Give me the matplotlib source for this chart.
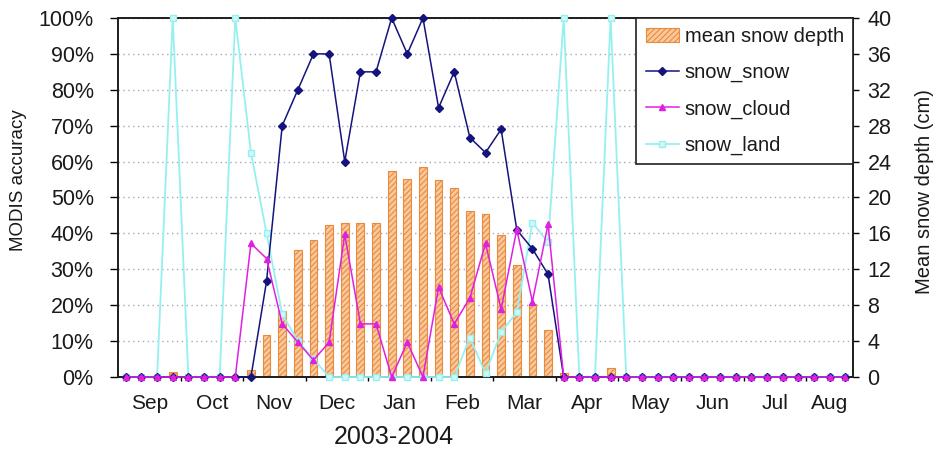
import matplotlib
matplotlib.use("Agg")
import matplotlib.pyplot as plt
import numpy as np

plt.rcParams['font.family'] = ['Liberation Sans', 'DejaVu Sans']
plt.rcParams['hatch.linewidth'] = 0.8

months = ["Sep", "Oct", "Nov", "Dec", "Jan", "Feb",
          "Mar", "Apr", "May", "Jun", "Jul", "Aug"]

# 8-day periods, Sep 2003 - Aug 2004 (47 periods)
snow_depth = [0, 0, 0, 0.6, 0, 0, 0, 0, 0.8, 4.7,
              7.35, 14.1, 15.3, 16.9, 17.2, 17.2, 17.2, 23.0, 22.1, 23.4,
              21.9, 21.1, 18.5, 18.2, 15.8, 12.5, 8.1, 5.2, 0.5, 0,
              0, 1.0, 0, 0, 0, 0, 0, 0, 0, 0,
              0, 0, 0, 0, 0, 0, 0]
snow_snow = [0, 0, 0, 0, 0, 0, 0, 0, 0, 26.7,
             70, 80, 90, 90, 60, 85, 85, 100, 90, 100,
             75, 85, 66.7, 62.5, 69, 41, 35.7, 28.6, 0, 0,
             0, 0, 0, 0, 0, 0, 0, 0, 0, 0,
             0, 0, 0, 0, 0, 0, 0]
snow_cloud = [0, 0, 0, 0, 0, 0, 0, 0, 37.2, 33,
              14.8, 9.7, 4.7, 9.7, 39.7, 14.8, 14.8, 0, 9.7, 0,
              25, 14.8, 22, 37.2, 18.9, 41.1, 21, 42.6, 0, 0,
              0, 0, 0, 0, 0, 0, 0, 0, 0, 0,
              0, 0, 0, 0, 0, 0, 0]
snow_land = [0, 0, 0, 100, 0, 0, 0, 100, 62.5, 40,
             17.5, 10, 5, 0, 0, 0, 0, 0, 0, 0,
             0, 0, 11, 1, 12.5, 18, 43, 37.5, 100, 0,
             0, 100, 0, 0, 0, 0, 0, 0, 0, 0,
             0, 0, 0, 0, 0, 0, 0]

x = np.arange(len(snow_depth))
text_color = "#1a1a1a"

fig = plt.figure(figsize=(9.36, 4.5), dpi=100)
ax = fig.add_axes([118 / 936, 1 - 377 / 450, 735 / 936, 359 / 450])
ax2 = ax.twinx()
ax.set_zorder(ax2.get_zorder() + 1)
ax.patch.set_visible(False)

# bars on the depth axis, behind the lines
bars = ax2.bar(x, snow_depth, width=0.5, facecolor="#f9c89c", edgecolor="#ea8a3c",
               hatch="//////", linewidth=0.8, label="mean snow depth", zorder=2)
ax2.set_ylim(0, 40)
ax2.set_yticks(range(0, 41, 4))
ax2.grid(axis="y", color="#a8a8b8", linestyle=(0, (1, 2.5)), linewidth=1)
ax2.set_axisbelow(True)

l3, = ax.plot(x, snow_land, color="#96f0f0", lw=1.3, marker="s", markersize=4,
              mfc="#d0f8f8", mec="#96f0f0", label="snow_land", zorder=3, clip_on=False)
l1, = ax.plot(x, snow_snow, color="#14147c", lw=1.1, marker="D", markersize=4,
              label="snow_snow", zorder=3.1, clip_on=False)
l2, = ax.plot(x, snow_cloud, color="#e020e0", lw=1.1, marker="^", markersize=5,
              label="snow_cloud", zorder=3.2, clip_on=False)

ax.set_xlim(-0.5, len(x) - 0.5)
ax.set_ylim(0, 100)
ax.set_yticks(range(0, 101, 10))
ax.set_yticklabels([f"{v}%" for v in range(0, 101, 10)])

# month boundaries every 4 periods, labels centered between them
bounds = [-0.5 + 4 * k for k in range(1, 12)]
centers = [1.5 + 4 * k for k in range(11)] + [45]
ax.set_xticks(bounds)
ax.set_xticklabels([])
ax.set_xticks(centers, minor=True)
ax.set_xticklabels(months, minor=True)
ax.tick_params(axis="x", which="major", length=3, width=1, direction="out")
ax.tick_params(axis="x", which="minor", length=0, pad=12, labelsize=15,
               labelcolor=text_color)
ax.tick_params(axis="y", length=5.5, width=1, pad=12, labelsize=15.5,
               labelcolor=text_color)
ax2.tick_params(axis="y", length=4.5, width=1, pad=6, labelsize=15.5,
                labelcolor=text_color)

for a in (ax, ax2):
    for s in a.spines.values():
        s.set_linewidth(1.3)
        s.set_color("#202020")

leg = ax.legend(handles=[bars, l1, l2, l3], loc="upper right", bbox_to_anchor=(1, 1),
                borderaxespad=0, fancybox=False, edgecolor="#202020", framealpha=1,
                fontsize=14.5, handlelength=1.65, handletextpad=0.3, labelspacing=0.85,
                borderpad=0.45)
leg.get_frame().set_linewidth(1.2)
for t in leg.get_texts():
    t.set_color(text_color)

fig.text(19 / 936, 1 - 180 / 450, "MODIS accuracy", rotation=90, ha="center",
         va="center", fontsize=13.5, color=text_color)
fig.text(924 / 936, 1 - 192 / 450, "Mean snow depth (cm)", rotation=90, ha="center",
         va="center", fontsize=14.5, color=text_color)
fig.text(394 / 936, 1 - 437 / 450, "2003-2004", ha="center", va="center",
         fontsize=18, color=text_color)

fig.savefig("out.png", dpi=100)
